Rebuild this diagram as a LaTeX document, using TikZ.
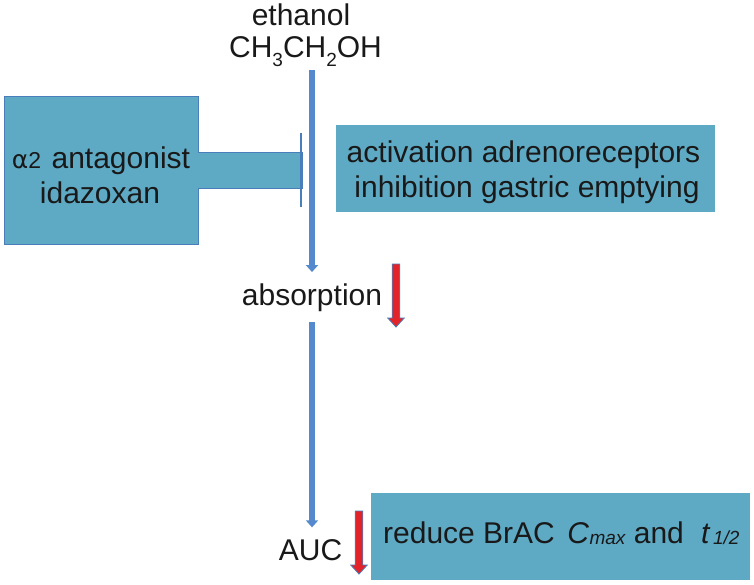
\documentclass[tikz,border=0pt]{standalone}
\usepackage{fontspec}
\setmainfont{Liberation Sans}
\newfontfamily\greekfont{DejaVu Sans}
\usetikzlibrary{arrows.meta,calc}
\definecolor{boxfill}{RGB}{94,170,197}
\definecolor{edgeblue}{RGB}{74,126,187}
\definecolor{arrblue}{RGB}{84,138,205}
\definecolor{arrred}{RGB}{226,36,42}
\newcommand\chsub[1]{\raisebox{-9pt}{\fontsize{19}{19}\selectfont #1}}
\newcommand\itsub[1]{\raisebox{-1.5pt}{\fontsize{19}{19}\selectfont\itshape #1}}
\begin{document}
\begin{tikzpicture}[x=1pt,y=-1pt,
  lbl/.style={inner sep=0pt, anchor=base, font=\fontsize{30}{35}\selectfont, text=black!90},
  bluearr/.style={draw=arrblue, line width=5.5pt, -{Triangle[width=12pt,length=7pt]}},
  tealbox/.style={fill=boxfill, draw=none, inner sep=0pt, minimum width=379pt, minimum height=87pt},
  redarrow/.pic={\filldraw[fill=arrred, draw=edgeblue, line width=0.8pt]
     (-3.8,0) -- (3.8,0) -- (3.8,54) -- (8.3,54) -- (0,63) -- (-8.3,54) -- (-3.8,54) -- cycle;}
]
\useasboundingbox (0,0) rectangle (754,584);

% top labels
\node[lbl] (eth) at (301,25) {ethanol};
\node[lbl] (chem) at (305.5,57) {CH\chsub{3}CH\chsub{2}OH};

% antagonist shape
\filldraw[fill=boxfill, draw=edgeblue, line width=0.8pt]
  (4,96) -- (198,96) -- (198,152) -- (302,152) -- (302,188) -- (198,188) -- (198,244) -- (4,244) -- cycle;
\draw[edgeblue, line width=1.2pt] (301,133) coordinate (barT) -- (301,207) coordinate (barB);
\node[lbl] (ant) at (101,168) {{\greekfont\fontsize{25}{25}\selectfont α}{\fontsize{23}{23}\selectfont 2}\hspace{2pt} antagonist};
\node[lbl] (ida) at (100,203) {idazoxan};

% mechanism box
\node[tealbox] (mechbox) at (525.5,168.5) {};
\node[lbl] (m1) at (523.5,162) {activation adrenoreceptors};
\node[lbl] (m2) at (527,197) {inhibition gastric emptying};

% absorption and AUC
\node[lbl] (abs) at (312,305) {absorption};
\node[lbl] (auc) at (310.5,560) {AUC};

% result box
\node[tealbox] (resbox) at (560.5,536.5) {};
\node[lbl, anchor=base west] (res) at (383,543)
  {reduce BrAC\hspace{4pt} \textit{C}\kern0.5pt\itsub{max} and\hspace{9pt} \textit{t}\hspace{2.5pt}\itsub{1/2}};

% connectors
\draw[bluearr, shorten <=4pt, shorten >=11pt] (chem.south -| abs.north) -- (abs.north);
\draw[bluearr, shorten <=11pt, shorten >=11.5pt] (abs.south) -- (abs.south |- auc.north);

% red indicator arrows
\coordinate (r1) at (396,264);
\coordinate (r2) at (359,511);
\pic at (r1) {redarrow};
\pic at (r2) {redarrow};
\end{tikzpicture}
\end{document}
